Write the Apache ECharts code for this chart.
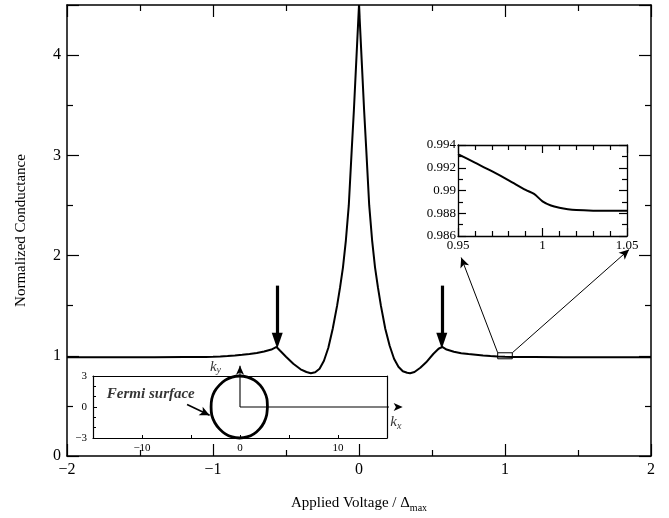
<!DOCTYPE html>
<html><head><meta charset="utf-8">
<script src="https://cdn.jsdelivr.net/npm/echarts@6/dist/echarts.min.js"></script>
<style>html,body{margin:0;padding:0;background:#fff}#c{width:669px;height:518px}</style>
</head><body><div id="c"></div>
<script>
// Main curve: applied voltage (units of Delta_max) vs normalized conductance
const voltage = [-2, -1.8, -1.6, -1.4, -1.2, -1.1, -1.05, -1.0, -0.95, -0.9, -0.85, -0.8, -0.75, -0.7, -0.65, -0.6, -0.565, -0.54, -0.5, -0.45, -0.4, -0.36, -0.33, -0.3, -0.27, -0.24, -0.21, -0.18, -0.15, -0.13, -0.11, -0.09, -0.07, -0.05, -0.035, -0.02, 0,
  0.02, 0.035, 0.05, 0.07, 0.09, 0.11, 0.13, 0.15, 0.18, 0.21, 0.24, 0.27, 0.3, 0.33, 0.35, 0.38, 0.42, 0.46, 0.51, 0.545, 0.57, 0.6, 0.65, 0.7, 0.75, 0.8, 0.85, 0.9, 0.95, 1.0, 1.05, 1.1, 1.2, 1.4, 1.6, 1.8, 2];
const conductance = [0.985, 0.985, 0.986, 0.986, 0.987, 0.988, 0.988, 0.9895, 0.993, 0.997, 1.003, 1.01, 1.018, 1.028, 1.042, 1.062, 1.088, 1.05, 0.99, 0.92, 0.865, 0.838, 0.826, 0.835, 0.87, 0.95, 1.08, 1.27, 1.5, 1.68, 1.88, 2.15, 2.5, 3.05, 3.45, 3.9, 4.5,
  3.9, 3.45, 3.05, 2.5, 2.15, 1.88, 1.68, 1.5, 1.27, 1.1, 0.97, 0.89, 0.845, 0.83, 0.826, 0.838, 0.88, 0.935, 1.02, 1.07, 1.088, 1.062, 1.04, 1.026, 1.017, 1.01, 1.003, 0.997, 0.993, 0.9895, 0.988, 0.988, 0.987, 0.986, 0.986, 0.985, 0.985];

// Zoomed inset near V = 1
const insetVoltage = [0.95, 0.96, 0.97, 0.98, 0.99, 0.995, 1.0, 1.005, 1.01, 1.015, 1.02, 1.03, 1.04, 1.05];
const insetConductance = [0.9932, 0.99245, 0.9917, 0.9909, 0.99005, 0.9897, 0.98905, 0.98868, 0.98848, 0.98835, 0.98828, 0.98823, 0.98822, 0.98822];

// Fermi surface contour (kx, ky)
const fermiKx = [2.8, 2.75, 2.48, 2.05, 1.45, 0.75, -0.05, -0.8, -1.5, -2.1, -2.6, -2.88, -2.95, -2.88, -2.58, -2.1, -1.5, -0.8, -0.05, 0.72, 1.42, 2.0, 2.45, 2.72, 2.8];
const fermiKy = [0.0, 0.78, 1.5, 2.12, 2.6, 2.9, 3.0, 2.9, 2.6, 2.12, 1.5, 0.78, 0.0, -0.78, -1.5, -2.12, -2.6, -2.9, -3.0, -2.9, -2.6, -2.12, -1.5, -0.78, 0.0];

// Tick label sets
const mainXTicks = [-2, -1, 0, 1, 2];
const mainYTicks = [0, 1, 2, 3, 4];
const insetXTicks = ['0.95', '1', '1.05'];
const insetYTicks = ['0.986', '0.988', '0.99', '0.992', '0.994'];
const fermiXTicks = [-10, 0, 10];
const fermiYTicks = [-3, 0, 3];

const mainData = voltage.map((v, i) => [v, conductance[i]]);
const insetData = insetVoltage.map((v, i) => [v, insetConductance[i]]);
const fermiData = fermiKx.map((v, i) => [v, fermiKy[i]]);

const SERIF = '"Liberation Serif", "Times New Roman", serif';
const minus = s => String(s).replace('-', '\u2212');
const black = '#000';

function axisBase(extra) {
  return Object.assign({
    axisLine: { show: true, onZero: false, lineStyle: { color: black, width: 1.5 } },
    splitLine: { show: false },
  }, extra);
}
const noTicks = { axisTick: { show: false }, minorTick: { show: false }, axisLabel: { show: false } };

const chart = echarts.init(document.getElementById('c'), null, { renderer: 'canvas' });
const option = {
  animation: false,
  backgroundColor: '#fff',
  grid: [
    { left: 67, top: 5, width: 584, height: 452 },
    { left: 458, top: 145, width: 169, height: 91 },
    { left: 93, top: 376, width: 294, height: 62 }
  ],
  xAxis: [
    axisBase({ gridIndex: 0, type: 'value', min: -2, max: 2, interval: 1, position: 'bottom',
      axisTick: { inside: true, length: 12, lineStyle: { color: black, width: 1.2 } },
      minorTick: { show: true, splitNumber: 2, length: 6, lineStyle: { color: black, width: 1.2 } },
      axisLabel: { color: black, fontFamily: SERIF, fontSize: 16, margin: 6,
        formatter: v => mainXTicks.includes(v) ? minus(v) : '' },
      name: 'Applied Voltage / \u0394{sub|max}', nameLocation: 'middle', nameGap: 38,
      nameTextStyle: { color: black, fontFamily: SERIF, fontSize: 15,
        rich: { sub: { fontFamily: SERIF, fontSize: 10, color: black, padding: [9, 0, 0, 0] } } } }),
    axisBase({ gridIndex: 0, type: 'value', min: -2, max: 2, interval: 1, position: 'top',
      axisTick: { inside: true, length: 12, lineStyle: { color: black, width: 1.2 } },
      minorTick: { show: true, splitNumber: 2, length: 6, lineStyle: { color: black, width: 1.2 } },
      axisLabel: { show: false } }),
    axisBase({ gridIndex: 1, type: 'value', min: 0.95, max: 1.05, interval: 0.05, position: 'bottom',
      axisLine: { show: true, onZero: false, lineStyle: { color: black, width: 1.3 } },
      axisTick: { inside: true, length: 8, lineStyle: { color: black, width: 1.2 } },
      minorTick: { show: true, splitNumber: 5, length: 5, lineStyle: { color: black, width: 1.2 } },
      axisLabel: { color: black, fontFamily: SERIF, fontSize: 13, margin: 3,
        formatter: v => { const s = String(+v.toFixed(2)); return insetXTicks.includes(s) ? s : ''; } } }),
    axisBase({ gridIndex: 1, type: 'value', min: 0.95, max: 1.05, interval: 0.05, position: 'top',
      axisLine: { show: true, onZero: false, lineStyle: { color: black, width: 1.3 } },
      axisTick: { inside: true, length: 8, lineStyle: { color: black, width: 1.2 } },
      minorTick: { show: true, splitNumber: 5, length: 5, lineStyle: { color: black, width: 1.2 } },
      axisLabel: { show: false } }),
    axisBase({ gridIndex: 2, type: 'value', min: -15, max: 15, interval: 5, position: 'bottom',
      axisLine: { show: true, onZero: false, lineStyle: { color: black, width: 1.2 } },
      axisTick: { inside: true, length: 3, lineStyle: { color: black, width: 1 } },
      minorTick: { show: false },
      axisLabel: { color: black, fontFamily: SERIF, fontSize: 11, margin: 5,
        formatter: v => fermiXTicks.includes(v) ? minus(v) : '' } }),
    axisBase(Object.assign({ gridIndex: 2, type: 'value', min: -15, max: 15, interval: 5, position: 'top',
      axisLine: { show: true, onZero: false, lineStyle: { color: black, width: 1.2 } } }, noTicks))
  ],
  yAxis: [
    axisBase({ gridIndex: 0, type: 'value', min: 0, max: 4.5, interval: 1, position: 'left',
      axisTick: { inside: true, length: 12, lineStyle: { color: black, width: 1.2 } },
      minorTick: { show: true, splitNumber: 2, length: 6, lineStyle: { color: black, width: 1.2 } },
      axisLabel: { color: black, fontFamily: SERIF, fontSize: 16, margin: 6, showMaxLabel: false,
        formatter: v => mainYTicks.includes(v) ? String(v) : '' },
      name: 'Normalized Conductance', nameLocation: 'middle', nameGap: 38,
      nameTextStyle: { color: black, fontFamily: SERIF, fontSize: 15 } }),
    axisBase({ gridIndex: 0, type: 'value', min: 0, max: 4.5, interval: 1, position: 'right',
      axisTick: { inside: true, length: 12, lineStyle: { color: black, width: 1.2 } },
      minorTick: { show: true, splitNumber: 2, length: 6, lineStyle: { color: black, width: 1.2 } },
      axisLabel: { show: false } }),
    axisBase({ gridIndex: 1, type: 'value', min: 0.986, max: 0.994, interval: 0.002, position: 'left',
      axisLine: { show: true, onZero: false, lineStyle: { color: black, width: 1.3 } },
      axisTick: { inside: true, length: 8, lineStyle: { color: black, width: 1.2 } },
      minorTick: { show: true, splitNumber: 2, length: 5, lineStyle: { color: black, width: 1.2 } },
      axisLabel: { color: black, fontFamily: SERIF, fontSize: 13, margin: 2,
        formatter: v => { const s = String(+v.toFixed(3)); return insetYTicks.includes(s) ? s : ''; } } }),
    axisBase({ gridIndex: 1, type: 'value', min: 0.986, max: 0.994, interval: 0.002, position: 'right',
      axisLine: { show: true, onZero: false, lineStyle: { color: black, width: 1.3 } },
      axisTick: { inside: true, length: 8, lineStyle: { color: black, width: 1.2 } },
      minorTick: { show: true, splitNumber: 2, length: 5, lineStyle: { color: black, width: 1.2 } },
      axisLabel: { show: false } }),
    axisBase({ gridIndex: 2, type: 'value', min: -3, max: 3, interval: 3, position: 'left',
      axisLine: { show: true, onZero: false, lineStyle: { color: black, width: 1.2 } },
      axisTick: { inside: true, length: 4, lineStyle: { color: black, width: 1 } },
      minorTick: { show: true, splitNumber: 3, length: 3, lineStyle: { color: black, width: 1 } },
      axisLabel: { color: black, fontFamily: SERIF, fontSize: 11, margin: 6,
        formatter: v => fermiYTicks.includes(v) ? minus(v) : '' } }),
    axisBase(Object.assign({ gridIndex: 2, type: 'value', min: -3, max: 3, interval: 3, position: 'right',
      axisLine: { show: true, onZero: false, lineStyle: { color: black, width: 1.2 } } }, noTicks))
  ],
  series: [
    {
      type: 'line', xAxisIndex: 0, yAxisIndex: 0, data: mainData, showSymbol: false, symbol: 'none',
      lineStyle: { color: black, width: 2 }, z: 3, silent: true,
      markLine: {
        silent: true, animation: false, label: { show: false },
        data: [
          [{ coord: [-0.56, 1.70], symbol: 'none', lineStyle: { width: 3.2, color: black, type: 'solid' } },
           { coord: [-0.56, 1.15], symbol: 'triangle', symbolSize: [11, 16], symbolRotate: 180 }],
          [{ coord: [0.567, 1.70], symbol: 'none', lineStyle: { width: 3.2, color: black, type: 'solid' } },
           { coord: [0.567, 1.15], symbol: 'triangle', symbolSize: [11, 16], symbolRotate: 180 }],
          [{ coord: [0.95, 1.03], symbol: 'none', lineStyle: { width: 1, color: black, type: 'solid' } },
           { coord: [0.70, 1.98], symbol: 'arrow', symbolSize: [7, 10] }],
          [{ coord: [1.05, 1.03], symbol: 'none', lineStyle: { width: 1, color: black, type: 'solid' } },
           { coord: [1.85, 2.06], symbol: 'arrow', symbolSize: [7, 10] }]
        ]
      },
      markArea: {
        silent: true,
        itemStyle: { color: 'rgba(0,0,0,0)', borderColor: black, borderWidth: 1 },
        data: [[{ coord: [0.95, 0.97] }, { coord: [1.05, 1.03] }]]
      }
    },
    {
      type: 'line', xAxisIndex: 2, yAxisIndex: 2, data: insetData, showSymbol: false, symbol: 'none',
      smooth: 0.3, lineStyle: { color: black, width: 2 }, silent: true
    },
    {
      type: 'line', xAxisIndex: 4, yAxisIndex: 4, data: fermiData, showSymbol: false, symbol: 'none',
      smooth: 0.2, lineStyle: { color: black, width: 2.8 }, silent: true, clip: false,
      markLine: {
        silent: true, animation: false, label: { show: false },
        data: [
          [{ coord: [-5.4, 0.25], symbol: 'none', lineStyle: { width: 1.6, color: black, type: 'solid' } }, { coord: [-3.1, -0.8], symbol: 'arrow', symbolSize: [7, 10] }]
        ]
      }
    },
    // k-space axes arrows (kx, ky)
    {
      type: 'line', xAxisIndex: 4, yAxisIndex: 4, clip: false, silent: true, showSymbol: true,
      lineStyle: { color: black, width: 1.1 }, itemStyle: { color: black },
      data: [{ value: [0, 0], symbol: 'none' }, { value: [16.6, 0], symbol: 'arrow', symbolSize: [6, 9], symbolRotate: -90 }]
    },
    {
      type: 'line', xAxisIndex: 4, yAxisIndex: 4, clip: false, silent: true, showSymbol: true,
      lineStyle: { color: black, width: 1.1 }, itemStyle: { color: black },
      data: [{ value: [0, 0], symbol: 'none' }, { value: [0, 4.0], symbol: 'arrow', symbolSize: [6, 9] }]
    },
    // text annotations
    {
      type: 'scatter', xAxisIndex: 4, yAxisIndex: 4, clip: false, silent: true, symbolSize: 0,
      itemStyle: { color: 'rgba(0,0,0,0)' },
      label: { show: true, position: 'inside', color: black, fontFamily: SERIF },
      data: [
        { value: [-9.1, 1.2], label: { formatter: 'Fermi surface', fontSize: 15, fontWeight: 'bold', fontStyle: 'italic' } },
        { value: [-2.5, 3.9], label: { formatter: 'k{s|y}', fontSize: 15, fontStyle: 'italic',
            rich: { s: { fontFamily: SERIF, fontSize: 10, fontStyle: 'italic', color: black, padding: [8, 0, 0, 0] } } } },
        { value: [15.9, -1.5], label: { formatter: 'k{s|x}', fontSize: 15, fontStyle: 'italic',
            rich: { s: { fontFamily: SERIF, fontSize: 10, fontStyle: 'italic', color: black, padding: [8, 0, 0, 0] } } } }
      ]
    }
  ]
};
chart.setOption(option);
</script>
</body></html>
